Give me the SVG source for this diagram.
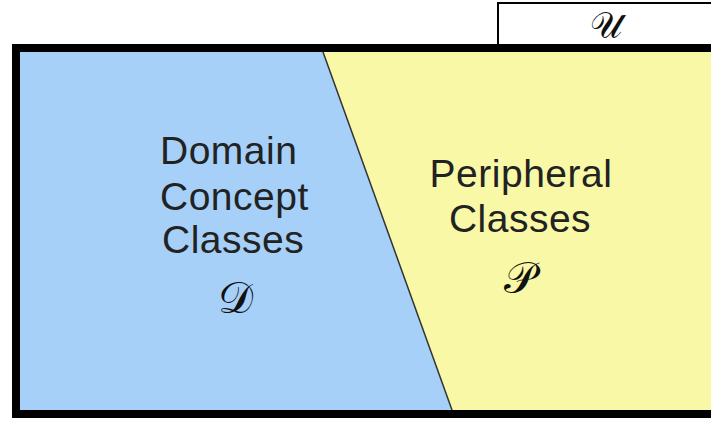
<svg xmlns="http://www.w3.org/2000/svg" width="711" height="421" viewBox="0 0 711 421">
<style>
.lbl{font-family:"Liberation Sans",Arial,sans-serif;font-size:39px;fill:#222;letter-spacing:0.5px;}
.scr{font-family:"DejaVu Serif","Noto Sans","Liberation Serif",serif;font-size:44px;fill:#111;text-anchor:middle;}
</style>
<rect width="711" height="421" fill="#fff"/>
<g id="universe">
<rect x="498" y="3" width="220" height="44" fill="#fff" stroke="#000" stroke-width="2"/>
<text class="scr" x="606" y="38" style="font-size:36px">𝒰</text>
</g>
<g id="domain">
<polygon points="20,52 323,52 452,410 20,410" fill="#A6D0F8"/>
<text class="lbl" x="160" y="164">Domain</text>
<text class="lbl" x="160" y="210">Concept</text>
<text class="lbl" x="162" y="253">Classes</text>
<text class="scr" x="235" y="313">𝒟</text>
</g>
<g id="peripheral">
<polygon points="323,52 720,52 720,410 452,410" fill="#F8F8A6"/>
<text class="lbl" x="521" y="187" text-anchor="middle">Peripheral</text>
<text class="lbl" x="520" y="232" text-anchor="middle">Classes</text>
<text class="scr" x="520" y="293">𝒫</text>
</g>
<g id="connectors">
<line x1="323" y1="52" x2="452" y2="410" stroke="#333" stroke-width="1.5"/>
</g>
<rect x="16" y="48" width="720" height="366" fill="none" stroke="#000" stroke-width="8"/>
</svg>
